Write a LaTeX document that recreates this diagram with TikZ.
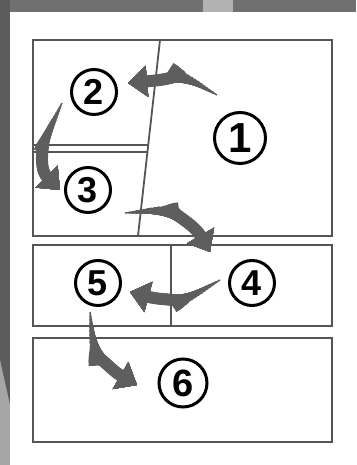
\documentclass[tikz,border=0pt]{standalone}
\usepackage{fontspec}
\setsansfont{Liberation Sans}
\usetikzlibrary{arrows.meta}
\definecolor{panelgray}{HTML}{555555}
\definecolor{flowgray}{HTML}{5E5E5E}
\definecolor{bgdark}{HTML}{5C5C5C}
\definecolor{bgtop}{HTML}{707070}
\newcommand{\flowto}[3]{\foreach \i [evaluate=\i as \w using 1.5+0.7*\i, evaluate=\i as \s using 3.6*\i] in {0,...,15}{\draw[flow,line width=\w pt,shorten <=\s pt] #1 to[#3] #2;}}
\begin{document}
\begin{tikzpicture}[x=1pt,y=1pt,
  panel/.style={draw=panelgray,line width=1.8pt},
  num/.style={circle,draw,line width=3pt,inner sep=0pt,minimum size=45pt,font=\sffamily\bfseries\fontsize{36}{36}\selectfont},
  flow/.style={draw=flowgray,line cap=butt,-{Triangle[length=19pt,width=30pt]}}]
\useasboundingbox (0,0) rectangle (356,465);
\fill[bgdark] (0,0) rectangle (356,465);
\fill[bgtop] (10,453) rectangle (356,465);
\fill[gray!60] (203,453) rectangle (233,465);
\fill[gray!70] (0,0)--(10,0)--(10,60)--(0,105)--cycle;
\fill[white] (10,0) rectangle (356,453);
\draw[panel] (33,229) rectangle (332,425);
\draw[panel] (160,425) -- (138,229);
\draw[panel] (33,320) -- (148.2,320) (33,313) -- (147.4,313);
\draw[panel] (33,139) rectangle (332,220); \draw[panel] (171,220) -- (171,139);
\draw[panel] (33,23) rectangle (332,127);
\node[num,minimum size=51pt,font=\sffamily\bfseries\fontsize{42}{42}\selectfont] (c1) at (240,327) {1};
\node[num] (c2) at (94,373) {2};
\node[num] (c3) at (88,275) {3};
\node[num] (c4) at (252,182) {4};
\node[num] (c5) at (98,182) {5};
\node[num,minimum size=48pt,font=\sffamily\bfseries\fontsize{38}{38}\selectfont] (c6) at (183,82) {6};
\flowto{([shift={(-23,43)}]c1.center)}{([shift={(34,9)}]c2.center)}{out=150,in=5}
\flowto{([shift={(-32,-11)}]c2.center)}{([shift={(-28,0)}]c3.center)}{out=-115,in=135}
\flowto{([shift={(37,-23)}]c3.center)}{([shift={(-42,31)}]c4.center)}{out=5,in=120}
\flowto{([shift={(-32,3)}]c4.center)}{([shift={(32,-9)}]c5.center)}{out=-150,in=-15}
\flowto{([shift={(-8,-29)}]c5.center)}{([shift={(-46,-2)}]c6.center)}{out=-85,in=150}
\end{tikzpicture}
\end{document}
